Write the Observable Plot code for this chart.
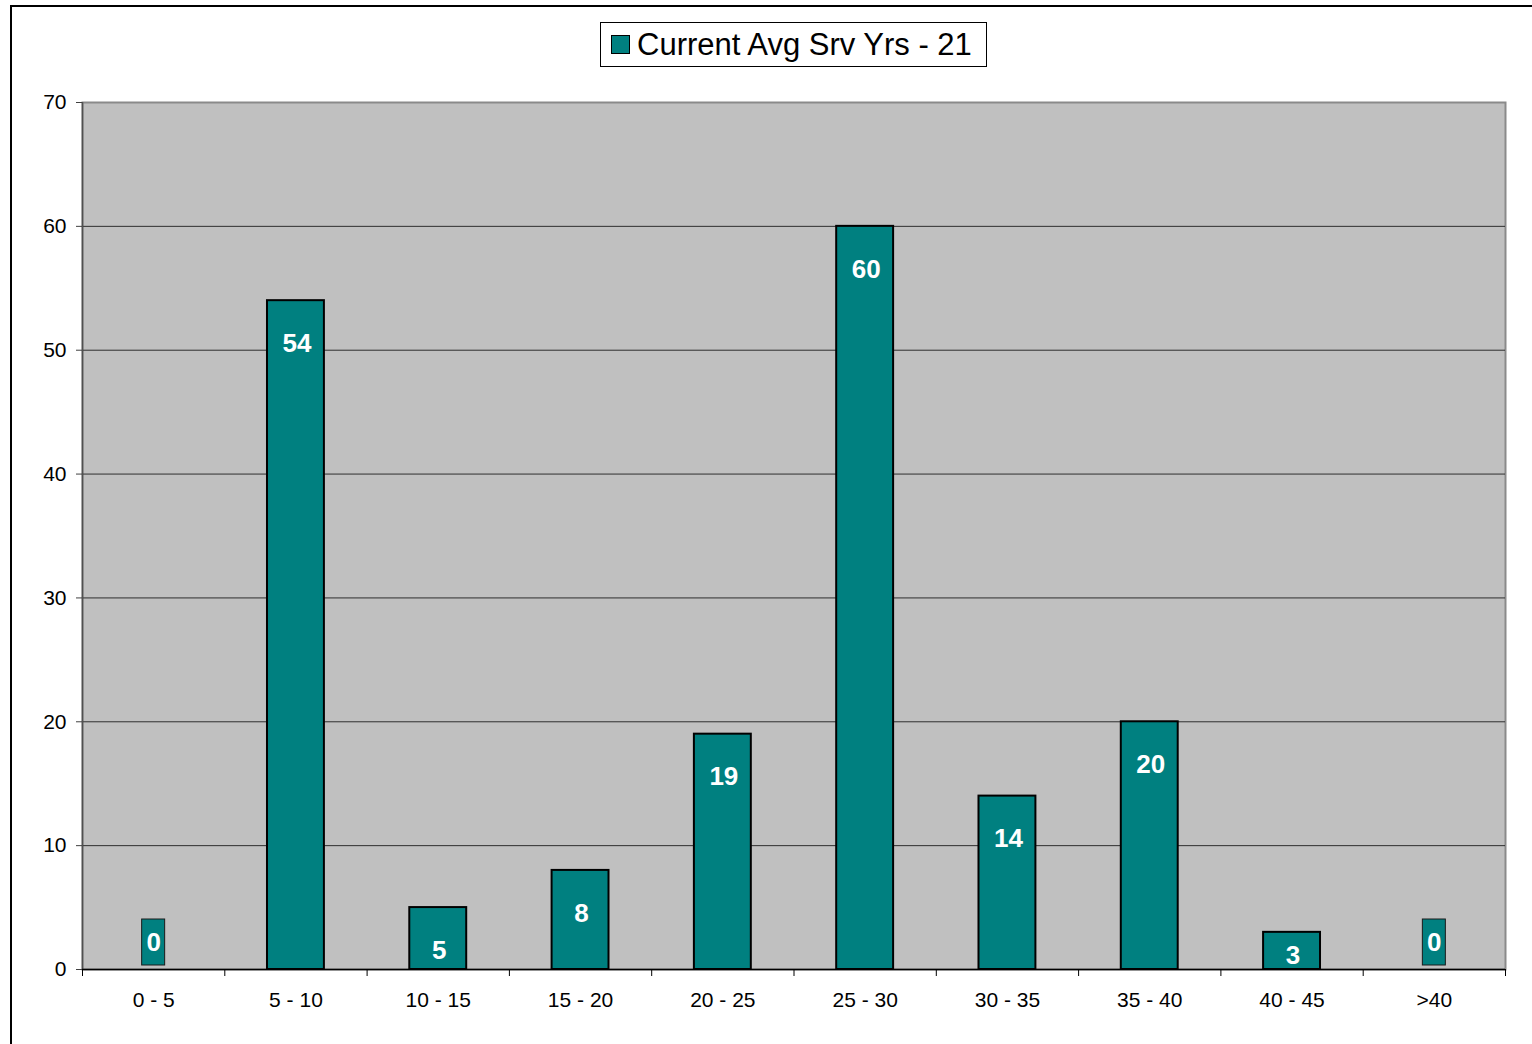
<!DOCTYPE html>
<html>
<head>
<meta charset="utf-8">
<script src="https://cdn.jsdelivr.net/npm/d3@7"></script>
<script src="https://cdn.jsdelivr.net/npm/@observablehq/plot@0.6"></script>
<style>
  html, body { margin: 0; padding: 0; background: #fff; overflow: hidden; }
  body { width: 1532px; height: 1044px; position: relative; font-family: "Liberation Sans", Arial, sans-serif; }
  #frame { position: absolute; left: 10px; top: 5px; width: 1560px; height: 1080px; border: 2px solid #000; box-sizing: border-box; }
  #chart { position: absolute; left: 0; top: 0; }
  #legend { position: absolute; left: 600px; top: 22px; width: 387px; height: 45px; box-sizing: border-box;
            border: 1px solid #000; background: #fff; display: flex; align-items: center; padding-left: 10px; }
  #legend .sw { width: 19px; height: 19px; background: #008080; border: 1px solid #000; box-sizing: border-box; margin-right: 7px; }
  #legend .lb { font-size: 31px; color: #000; line-height: 1; white-space: nowrap; }
</style>
</head>
<body>
<div id="frame"></div>
<div id="chart"></div>
<div id="legend"><div class="sw"></div><div class="lb"></div></div>
<script>
const categories = ["0 - 5", "5 - 10", "10 - 15", "15 - 20", "20 - 25", "25 - 30", "30 - 35", "35 - 40", "40 - 45", ">40"];
const values = [0, 54, 5, 8, 19, 60, 14, 20, 3, 0];
const yTicks = [0, 10, 20, 30, 40, 50, 60, 70];
const seriesName = "Current Avg Srv Yrs - 21";

document.querySelector("#legend .lb").textContent = seriesName;

const rows = categories.map((c, i) => ({cat: c, i, value: values[i]}));
const bars = rows.filter(d => d.value > 0);
const zeros = rows.filter(d => d.value === 0);
const tall = bars.filter(d => d.value >= 4);
const small = bars.filter(d => d.value < 4);

const teal = "#008080";

const chart = Plot.plot({
  width: 1532,
  height: 1044,
  marginLeft: 82,
  marginRight: 27,
  marginTop: 102,
  marginBottom: 75,
  style: {fontFamily: "'Liberation Sans', Arial, sans-serif", background: "transparent"},
  x: {type: "linear", domain: [0, categories.length], axis: null},
  y: {domain: [0, 70], axis: null},
  marks: [
    Plot.frame({fill: "#c0c0c0", stroke: "#8a8a8a", strokeWidth: 2}),
    Plot.ruleY(yTicks.filter(t => t > 0 && t < 70), {stroke: "#2e2e2e", strokeWidth: 1}),
    Plot.ruleX([0], {stroke: "#505050", strokeWidth: 1.5}),
    Plot.axisY({ticks: yTicks, tickSize: 6, tickPadding: 10, fontSize: 21, stroke: "#404040",
                color: "#000", tickFormat: d3.format("d"), label: null}),
    Plot.axisX({ticks: d3.range(categories.length + 1), tickSize: 7, tickFormat: () => "", stroke: "#000", label: null}),
    Plot.text(rows, {x: d => d.i + 0.5, text: "cat", frameAnchor: "bottom", dy: 31, lineAnchor: "middle",
                     fontSize: 21, fill: "#000"}),
    Plot.rectY(bars, {x1: d => d.i + 0.3, x2: d => d.i + 0.7, y1: 0, y2: "value",
                      fill: teal, stroke: "#000", strokeWidth: 2}),
    Plot.rectY(zeros, {x1: d => d.i + 0.5, x2: d => d.i + 0.5, y1: 0, y2: 0,
                       insetLeft: -11.5, insetRight: -11.5, insetTop: -50, insetBottom: 4,
                       fill: teal, stroke: "#1a1a1a", strokeWidth: 1}),
    Plot.ruleY([0], {stroke: "#000", strokeWidth: 1.5}),
    Plot.text(tall, {x: d => d.i + 0.5, y: "value", text: d => String(d.value), dy: 43, dx: 1,
                     lineAnchor: "middle", fill: "#fff", fontSize: 26, fontWeight: "bold"}),
    Plot.text(small, {x: d => d.i + 0.5, y: 0, text: d => String(d.value), dy: -14, dx: 1,
                      lineAnchor: "middle", fill: "#fff", fontSize: 26, fontWeight: "bold"}),
    Plot.text(zeros, {x: d => d.i + 0.5, y: 0, text: d => String(d.value), dy: -27,
                      lineAnchor: "middle", fill: "#fff", fontSize: 26, fontWeight: "bold"})
  ]
});
document.getElementById("chart").appendChild(chart);
</script>
</body>
</html>
